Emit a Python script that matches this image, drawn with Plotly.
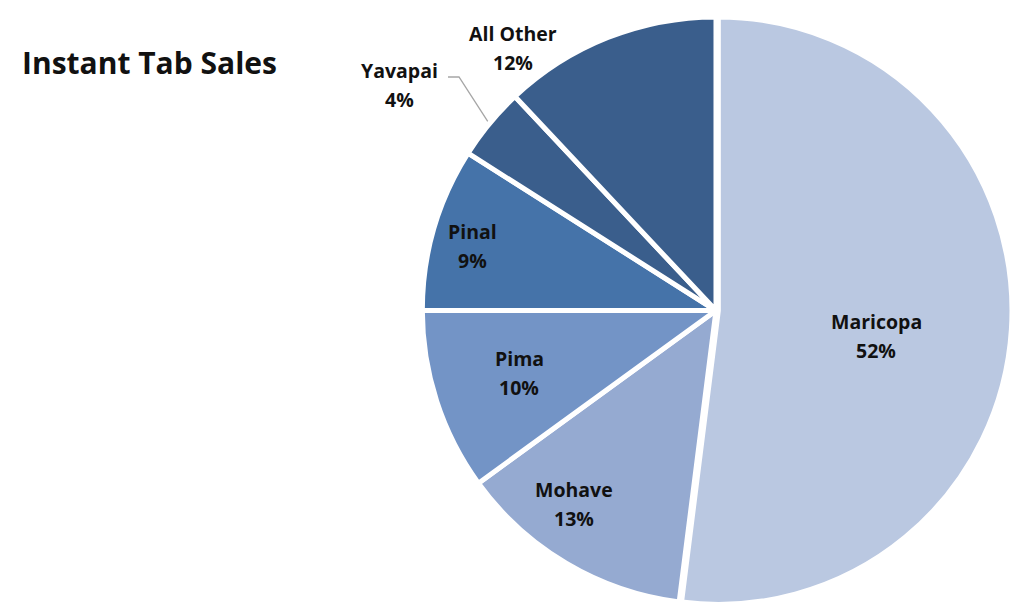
import math
import plotly.graph_objects as go

# Instant tab sales share by county
counties = ["Maricopa", "Mohave", "Pima", "Pinal", "Yavapai", "All Other"]
shares = [52, 13, 10, 9, 4, 12]
slice_colors = ["#BAC8E1", "#95AAD1", "#7394C6", "#4573A9", "#3A5E8C", "#3A5E8C"]
pulls = [0.008, 0, 0, 0, 0, 0]

W, H = 1012, 615
LABEL_FONT = dict(family="Open Sans", size=19.5, color="#111111")
LINE_GAP = 29  # px between the name line and the percent line

# Label block centres in pixels
label_xy = {
    "Maricopa": (876, 336),
    "Mohave": (574, 504),
    "Pima": (519, 373),
    "Pinal": (472, 246),
    "Yavapai": (399, 85),
    "All Other": (513, 48),
}

dom_x = [0.415, 1.0]
dom_y = [0.01, 0.98]

fig = go.Figure(
    go.Pie(
        labels=counties,
        values=shares,
        sort=False,
        direction="clockwise",
        rotation=0,
        pull=pulls,
        marker=dict(colors=slice_colors, line=dict(color="white", width=5)),
        textinfo="none",
        domain=dict(x=dom_x, y=dom_y),
        showlegend=False,
        hoverinfo="label+percent",
    )
)

# Pie geometry in pixels (same formula plotly uses for a pie in its domain)
box_w = W * (dom_x[1] - dom_x[0])
box_h = H * (dom_y[1] - dom_y[0])
radius = min(box_w, box_h) / (2 + 2 * max(pulls))
cx = W * (dom_x[0] + dom_x[1]) / 2
cy = H * (1 - dom_y[0]) - box_h / 2
total = sum(shares)


def edge_point(name):
    i = counties.index(name)
    mid = (sum(shares[:i]) + shares[i] / 2) / total * 2 * math.pi
    return cx + radius * math.sin(mid), cy - radius * math.cos(mid)


# Two-line labels: county name above its share
for name, share in zip(counties, shares):
    lx, ly = label_xy[name]
    for text, y in ((name, ly - LINE_GAP / 2), (f"{share / total:.0%}", ly + LINE_GAP / 2)):
        fig.add_annotation(
            text=f"<b>{text}</b>",
            xref="paper", yref="paper",
            x=lx / W, y=1 - y / H,
            xanchor="center", yanchor="middle",
            showarrow=False,
            font=LABEL_FONT,
        )

# Leader line from the Yavapai label to its slice
ex, ey = edge_point("Yavapai")
lx0, ly0 = 448, 77
fig.add_shape(
    type="path",
    xref="paper", yref="paper",
    path=(f"M {lx0 / W},{1 - ly0 / H} L {(lx0 + 11) / W},{1 - ly0 / H} "
          f"L {(ex - 2) / W},{1 - (ey - 2) / H}"),
    line=dict(color="#A6A6A6", width=1.3),
)

fig.add_annotation(
    text="<b>Instant Tab Sales</b>",
    xref="paper", yref="paper",
    x=20 / W, y=1 - 62 / H,
    xanchor="left", yanchor="middle",
    showarrow=False,
    font=dict(family="Open Sans", size=30, color="#111111"),
)

fig.update_layout(
    width=W,
    height=H,
    margin=dict(l=0, r=0, t=0, b=0),
    paper_bgcolor="white",
    plot_bgcolor="white",
)

fig.write_html("out.html")
